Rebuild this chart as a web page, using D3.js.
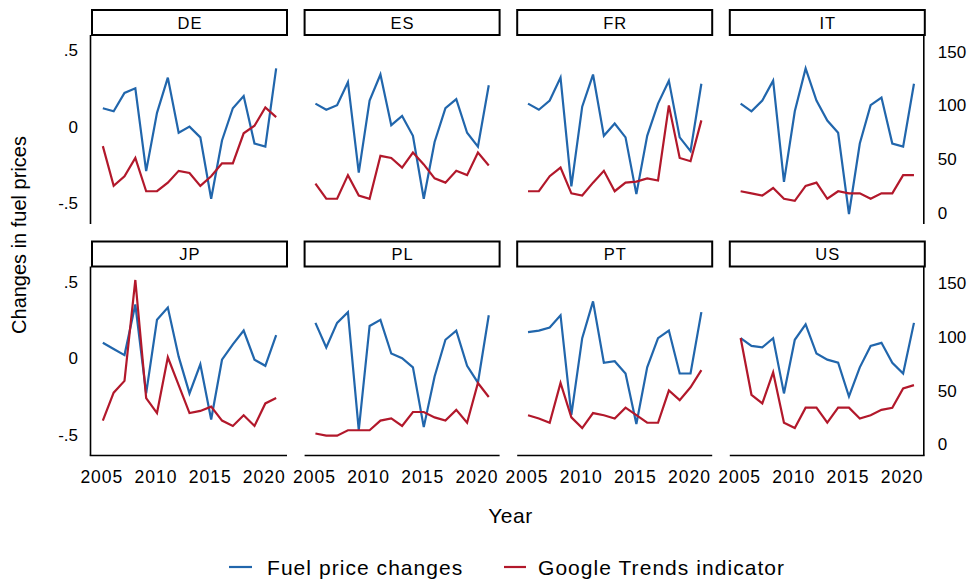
<!DOCTYPE html>
<html>
<head>
<meta charset="utf-8">
<script src="https://cdn.jsdelivr.net/npm/d3@7"></script>
<style>
  html, body { margin: 0; padding: 0; background: #fff; }
  svg { display: block; font-family: "Liberation Sans", Arial, sans-serif; }
</style>
</head>
<body>
<svg id="chart" width="973" height="583"></svg>
<script>
// ---- data ----
const years = [2005,2006,2007,2008,2009,2010,2011,2012,2013,2014,2015,2016,2017,2018,2019,2020,2021];
const countries = ["DE","ES","FR","IT","JP","PL","PT","US"];
const xTicks = [2005, 2010, 2015, 2020];
const leftTicks = [0.5, 0, -0.5];
const leftTickLabels = [".5", "0", "-.5"];
const rightTicks = [0, 50, 100, 150];

const fuelDE = [0.12, 0.10, 0.22, 0.25, -0.29, 0.09, 0.32, -0.04, 0.00, -0.07, -0.47, -0.09, 0.12, 0.20, -0.11, -0.13, 0.38];
const fuelES = [0.15, 0.11, 0.14, 0.29, -0.30, 0.17, 0.34, 0.01, 0.07, -0.06, -0.47, -0.10, 0.12, 0.18, -0.04, -0.13, 0.27];
const fuelFR = [0.15, 0.11, 0.17, 0.32, -0.39, 0.13, 0.34, -0.06, 0.02, -0.07, -0.44, -0.06, 0.15, 0.30, -0.07, -0.16, 0.28];
const fuelIT = [0.15, 0.10, 0.17, 0.30, -0.36, 0.10, 0.38, 0.17, 0.04, -0.04, -0.57, -0.11, 0.14, 0.19, -0.11, -0.13, 0.28];
const fuelJP = [0.10, 0.06, 0.02, 0.35, -0.23, 0.25, 0.33, 0.01, -0.23, -0.04, -0.40, -0.01, 0.09, 0.18, -0.01, -0.05, 0.15];
const fuelPL = [0.23, 0.07, 0.23, 0.30, -0.47, 0.21, 0.25, 0.03, 0.00, -0.06, -0.45, -0.12, 0.12, 0.18, -0.05, -0.16, 0.28];
const fuelPT = [0.17, 0.18, 0.20, 0.28, -0.37, 0.13, 0.37, -0.03, -0.02, -0.10, -0.43, -0.06, 0.13, 0.18, -0.10, -0.10, 0.30];
const fuelUS = [0.13, 0.08, 0.07, 0.13, -0.23, 0.12, 0.22, 0.03, -0.01, -0.03, -0.25, -0.06, 0.08, 0.10, -0.03, -0.10, 0.23];

const trendsDE = [62, 25, 34, 51, 20, 20, 28, 39, 37, 25, 34, 46, 46, 74, 81, 98, 89];
const trendsES = [27, 13, 13, 35, 16, 13, 53, 51, 42, 56, 45, 32, 28, 39, 35, 56, 44];
const trendsFR = [20, 20, 34, 42, 18, 16, 28, 39, 20, 28, 29, 32, 30, 100, 51, 48, 86];
const trendsIT = [20, 18, 16, 23, 13, 11, 25, 28, 13, 20, 18, 18, 13, 18, 18, 35, 35];
const trendsJP = [22, 48, 59, 153, 43, 29, 81, 55, 29, 31, 35, 22, 17, 27, 17, 38, 43];
const trendsPL = [10, 8, 8, 13, 13, 13, 22, 24, 17, 30, 30, 25, 22, 32, 20, 57, 44];
const trendsPT = [27, 24, 20, 57, 25, 15, 29, 27, 24, 34, 27, 20, 20, 50, 41, 53, 69];
const trendsUS = [99, 46, 38, 67, 20, 15, 34, 34, 20, 34, 34, 24, 27, 32, 34, 52, 55];

const fuelBy = {DE: fuelDE, ES: fuelES, FR: fuelFR, IT: fuelIT, JP: fuelJP, PL: fuelPL, PT: fuelPT, US: fuelUS};
const trendsBy = {DE: trendsDE, ES: trendsES, FR: trendsFR, IT: trendsIT, JP: trendsJP, PL: trendsPL, PT: trendsPT, US: trendsUS};

// ---- layout ----
const BLUE = "#2166ac", RED = "#b2182b";
const svg = d3.select("#chart");
const colStep = 212.6, panelW = 195, firstX = 92;
const rowTops = [35, 266.5], panelH = 189, stripH = 25;

const yL = d3.scaleLinear().domain([0.5, -0.5]).range([15, 15 + 153.3]);
const yR = d3.scaleLinear().domain([150, 0]).range([16.7, 16.7 + 161]);

countries.forEach((c, i) => {
  const col = i % 4, row = Math.floor(i / 4);
  const x0 = firstX + col * colStep, y0 = rowTops[row];
  const x = d3.scaleLinear().domain([2004, 2022]).range([0, panelW]);
  const g = svg.append("g").attr("transform", `translate(${x0},${y0})`);

  // strip
  g.append("rect").attr("x", 0).attr("y", -stripH).attr("width", panelW).attr("height", stripH)
    .attr("fill", "#fff").attr("stroke", "#000").attr("stroke-width", 2);
  g.append("text").attr("x", panelW / 2 + 0.5).attr("y", -stripH / 2 + 6)
    .attr("text-anchor", "middle").attr("font-size", 16.5).attr("fill", "#000")
    .attr("letter-spacing", 1).text(c);

  // axes lines
  if (col === 0) {
    g.append("line").attr("x1", -1.5).attr("x2", -1.5).attr("y1", 0).attr("y2", panelH)
      .attr("stroke", "#000").attr("stroke-width", 1.6);
    leftTicks.forEach((t, k) => {
      g.append("text").attr("x", -14).attr("y", yL(t) + 6).attr("text-anchor", "end")
        .attr("font-size", 17).attr("fill", "#000").text(leftTickLabels[k]);
    });
  }
  if (col === 3) {
    g.append("line").attr("x1", panelW - 1).attr("x2", panelW - 1).attr("y1", 0).attr("y2", panelH)
      .attr("stroke", "#000").attr("stroke-width", 1.6);
    rightTicks.forEach(t => {
      g.append("text").attr("x", panelW + 13).attr("y", yR(t) + 6).attr("text-anchor", "start")
        .attr("font-size", 17).attr("fill", "#000").text(t);
    });
  }
  if (row === 1) {
    g.append("line").attr("x1", col === 0 ? -2.3 : 0).attr("x2", col === 3 ? panelW - 0.2 : panelW)
      .attr("y1", panelH).attr("y2", panelH)
      .attr("stroke", "#000").attr("stroke-width", 1.6);
    xTicks.forEach(t => {
      g.append("text").attr("x", x(t) - 1).attr("y", panelH + 27).attr("text-anchor", "middle")
        .attr("font-size", 17.5).attr("letter-spacing", 1).attr("fill", "#000").text(t);
    });
  }

  const fuelLine = d3.line().x((d, k) => x(years[k])).y(d => yL(d));
  const trendLine = d3.line().x((d, k) => x(years[k])).y(d => yR(d));
  g.append("path").datum(fuelBy[c]).attr("d", fuelLine).attr("fill", "none")
    .attr("stroke", BLUE).attr("stroke-width", 2.2).attr("stroke-linejoin", "miter");
  g.append("path").datum(trendsBy[c]).attr("d", trendLine).attr("fill", "none")
    .attr("stroke", RED).attr("stroke-width", 2.2).attr("stroke-linejoin", "miter");
});

// axis titles
svg.append("text").attr("transform", "translate(26,235) rotate(-90)")
  .attr("text-anchor", "middle").attr("font-size", 20).attr("fill", "#000")
  .text("Changes in fuel prices");
svg.append("text").attr("x", 510.5).attr("y", 523).attr("text-anchor", "middle")
  .attr("font-size", 21).attr("letter-spacing", 0.5).attr("fill", "#000").text("Year");

// legend
const legendItems = [
  {label: "Fuel price changes", color: BLUE, x1: 229, x2: 252, tx: 267},
  {label: "Google Trends indicator", color: RED, x1: 504, x2: 526, tx: 538}
];
legendItems.forEach(it => {
  svg.append("line").attr("x1", it.x1).attr("x2", it.x2).attr("y1", 567).attr("y2", 567)
    .attr("stroke", it.color).attr("stroke-width", 2.2);
  svg.append("text").attr("x", it.tx).attr("y", 575).attr("font-size", 21)
    .attr("letter-spacing", 1.05).attr("fill", "#000").text(it.label);
});
</script>
</body>
</html>
